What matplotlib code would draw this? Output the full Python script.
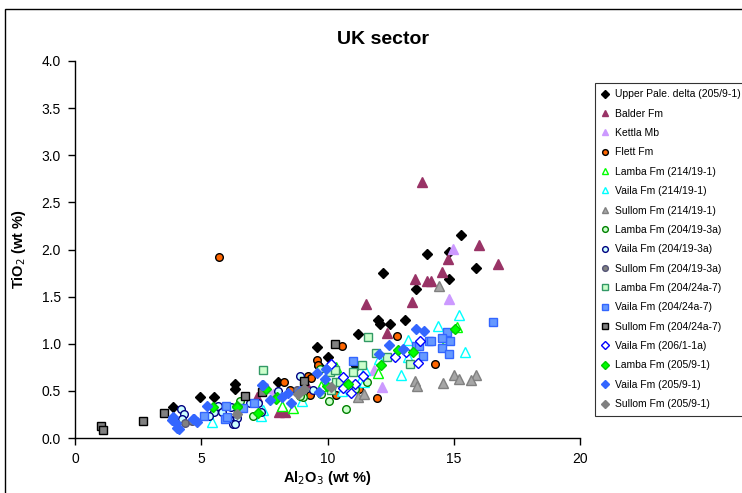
import matplotlib
matplotlib.use("Agg")
import matplotlib.pyplot as plt
from matplotlib.lines import Line2D
from matplotlib.patches import Rectangle

plt.rcParams['font.family'] = ['Liberation Sans', 'DejaVu Sans']

# Al2O3 (x) and TiO2 (y), wt %
upper_pale_x = [15.29, 13.95, 14.8, 15.88, 12.19, 14.8, 13.49, 11.99, 12.08, 12.48, 13.08, 11.21,
                11.12, 9.58, 10.03, 8.03, 6.32, 6.32, 3.87, 4.96, 5.5, 9.68]
upper_pale_y = [2.15, 1.95, 1.97, 1.80, 1.75, 1.69, 1.58, 1.25, 1.21, 1.21, 1.25, 1.10,
                0.76, 0.97, 0.86, 0.59, 0.57, 0.52, 0.33, 0.43, 0.43, 0.76]

balder_x = [13.74, 15.99, 16.75, 14.76, 14.55, 13.45, 13.95, 14.11, 11.54, 13.33, 12.36, 8.07, 8.33, 7.19, 9.11]
balder_y = [2.72, 2.05, 1.85, 1.90, 1.76, 1.69, 1.67, 1.67, 1.42, 1.44, 1.11, 0.28, 0.28, 0.44, 0.59]

kettla_x = [14.96, 14.8, 12.15, 11.85, 7.83, 7.59]
kettla_y = [2.01, 1.47, 0.54, 0.72, 0.47, 0.53]

flett_x = [5.70, 12.74, 14.26, 11.96, 10.57, 9.57, 9.64, 9.23, 9.36, 8.29, 8.51, 9.29, 10.34, 11.26]
flett_y = [1.92, 1.08, 0.78, 0.42, 0.98, 0.83, 0.77, 0.66, 0.64, 0.59, 0.51, 0.46, 0.46, 0.52]

lamba_214_x = [15.14, 12.01, 14.72, 10.34, 8.19, 8.62, 10.28, 9.76]
lamba_214_y = [1.18, 0.69, 1.05, 0.75, 0.34, 0.32, 0.73, 0.55]

vaila_214_x = [15.21, 15.46, 14.36, 13.17, 13.17, 12.9, 12.05, 11.49, 11.29, 8.98, 11.46, 10.56, 7.43, 7.37, 5.43]
vaila_214_y = [1.31, 0.91, 1.19, 1.04, 0.86, 0.67, 0.84, 0.72, 0.60, 0.39, 0.59, 0.50, 0.30, 0.23, 0.17]

sullom_214_x = [15.01, 15.21, 15.87, 15.7, 14.59, 14.42, 13.47, 13.53, 11.22, 11.45]
sullom_214_y = [0.67, 0.63, 0.67, 0.62, 0.58, 1.61, 0.60, 0.55, 0.44, 0.47]

lamba_2041_x = [11.55, 10.73, 10.07, 9.74, 9.02, 11.1, 8.92, 6.53, 7.04, 9.70]
lamba_2041_y = [0.59, 0.31, 0.39, 0.47, 0.44, 0.52, 0.45, 0.39, 0.23, 0.73]

vaila_2041_x = [4.2, 4.3, 4.24, 5.52, 5.65, 5.81, 6.17, 6.30, 6.40, 5.32, 6.11, 6.24, 6.93, 7.26,
                7.35, 9.44, 8.91, 8.03, 6.44, 6.34]
vaila_2041_y = [0.31, 0.25, 0.20, 0.28, 0.34, 0.28, 0.33, 0.19, 0.21, 0.23, 0.20, 0.15, 0.37, 0.37,
                0.28, 0.51, 0.66, 0.50, 0.30, 0.15]

sullom_2041_x = [4.37, 4.62, 6.40, 8.81, 9.04]
sullom_2041_y = [0.16, 0.18, 0.25, 0.51, 0.52]

lamba_2042_x = [7.46, 11.59, 11.91, 12.34, 13.27, 11.35, 10.1, 10.34, 10.5, 10.14, 11.0, 10.3]
lamba_2042_y = [0.72, 1.07, 0.90, 0.86, 0.78, 0.77, 0.70, 0.59, 0.59, 0.51, 0.70, 0.72]

vaila_2042_x = [16.57, 14.75, 14.85, 14.55, 14.81, 14.52, 14.0, 14.1, 13.49, 13.62, 13.8, 11.0,
                5.98, 5.94, 5.11, 6.67, 6.0, 7.1]
vaila_2042_y = [1.23, 1.12, 1.03, 0.95, 0.89, 1.06, 1.03, 1.03, 0.98, 0.98, 0.87, 0.82,
                0.34, 0.20, 0.23, 0.32, 0.22, 0.37]

sullom_2042_x = [1.03, 1.12, 2.69, 3.52, 10.3, 9.08, 7.41, 6.75]
sullom_2042_y = [0.13, 0.08, 0.18, 0.26, 1.00, 0.61, 0.49, 0.45]

vaila_206_x = [13.66, 13.09, 12.69, 13.6, 11.39, 11.09, 10.14, 10.6, 10.6, 10.93]
vaila_206_y = [1.03, 0.91, 0.86, 0.80, 0.66, 0.57, 0.79, 0.65, 0.53, 0.48]

lamba_205_x = [15.05, 12.78, 13.4, 12.11, 10.8, 9.97, 7.56, 8.01, 7.96, 6.40, 5.45, 6.40, 7.23]
lamba_205_y = [1.16, 0.93, 0.91, 0.77, 0.57, 0.55, 0.52, 0.44, 0.41, 0.34, 0.33, 0.33, 0.26]

vaila_205_x = [13.49, 13.82, 12.45, 12.03, 13.0, 9.93, 9.9, 9.6, 8.91, 8.42, 7.46, 7.72, 8.19, 8.54,
               9.68, 5.24, 3.87, 4.0, 4.13, 4.72, 4.84, 3.83, 4.03, 4.69, 7.42]
vaila_205_y = [1.16, 1.13, 0.99, 0.89, 0.94, 0.73, 0.63, 0.69, 0.50, 0.48, 0.56, 0.40, 0.43, 0.37,
               0.49, 0.34, 0.22, 0.16, 0.10, 0.20, 0.17, 0.19, 0.11, 0.20, 0.56]

sullom_205_x = [9.07, 8.84, 10.14, 6.42]
sullom_205_y = [0.52, 0.47, 0.54, 0.25]

series = [
    ("Upper Pale. delta (205/9-1)", upper_pale_x, upper_pale_y, "D", "black", "black", 5.2),
    ("Balder Fm", balder_x, balder_y, "^", "#993366", "#993366", 6.5),
    ("Kettla Mb", kettla_x, kettla_y, "^", "#cc99ff", "#cc99ff", 6.5),
    ("Flett Fm", flett_x, flett_y, "o", "#ff6600", "black", 5.5),
    ("Lamba Fm (214/19-1)", lamba_214_x, lamba_214_y, "^", "white", "#00ff00", 6.5),
    ("Vaila Fm (214/19-1)", vaila_214_x, vaila_214_y, "^", "white", "#00ffff", 6.5),
    ("Sullom Fm (214/19-1)", sullom_214_x, sullom_214_y, "^", "#a6a6a6", "#808080", 6.5),
    ("Lamba Fm (204/19-3a)", lamba_2041_x, lamba_2041_y, "o", "#ccffcc", "#008000", 5.5),
    ("Vaila Fm (204/19-3a)", vaila_2041_x, vaila_2041_y, "o", "#ccffff", "#000080", 5.5),
    ("Sullom Fm (204/19-3a)", sullom_2041_x, sullom_2041_y, "o", "#808080", "#555577", 5.5),
    ("Lamba Fm (204/24a-7)", lamba_2042_x, lamba_2042_y, "s", "#ccffcc", "#339966", 5.8),
    ("Vaila Fm (204/24a-7)", vaila_2042_x, vaila_2042_y, "s", "#6699ff", "#3366ff", 5.8),
    ("Sullom Fm (204/24a-7)", sullom_2042_x, sullom_2042_y, "s", "#808080", "black", 5.8),
    ("Vaila Fm (206/1-1a)", vaila_206_x, vaila_206_y, "D", "white", "#0000ff", 5.2),
    ("Lamba Fm (205/9-1)", lamba_205_x, lamba_205_y, "D", "#00ff00", "#00cc00", 5.2),
    ("Vaila Fm (205/9-1)", vaila_205_x, vaila_205_y, "D", "#3366ff", "#3366ff", 5.2),
    ("Sullom Fm (205/9-1)", sullom_205_x, sullom_205_y, "D", "#808080", "#808080", 5.2),
]

fig = plt.figure(figsize=(7.42, 4.93), dpi=100)
W, H = 742, 493

# chart frame
fig.patches.append(Rectangle((5 / W, -0.1), 1.2, 1 - 9 / H + 0.1, transform=fig.transFigure,
                             fill=False, edgecolor="black", linewidth=1.0))

ax = fig.add_axes([75 / W, 1 - 438 / H, (580 - 75) / W, (438 - 61) / H])

handles = []
for label, xs, ys, mk, fc, ec, ms in series:
    ax.plot(xs, ys, linestyle="none", marker=mk, markersize=ms, markerfacecolor=fc,
            markeredgecolor=ec, markeredgewidth=1.0, clip_on=False)
    handles.append(Line2D([], [], linestyle="none", marker=mk, markersize=ms * 0.75,
                          markerfacecolor=fc, markeredgecolor=ec, markeredgewidth=1.0, label=label))

ax.set_xlim(0, 20)
ax.set_ylim(0, 4.0)
ax.set_xticks([0, 5, 10, 15, 20])
ax.set_yticks([0.0, 0.5, 1.0, 1.5, 2.0, 2.5, 3.0, 3.5, 4.0])
ax.set_yticklabels([f"{v:.1f}" for v in ax.get_yticks()])
ax.spines["top"].set_visible(False)
ax.spines["right"].set_visible(False)
ax.spines["left"].set_linewidth(1.0)
ax.spines["bottom"].set_linewidth(1.0)
ax.tick_params(direction="out", length=5, width=1.0, labelsize=10, pad=5)

ax.set_xlabel("Al$_2$O$_3$ (wt %)", fontsize=10.5, fontweight="bold", labelpad=2)
ax.set_ylabel("TiO$_2$ (wt %)", fontsize=10.5, fontweight="bold", labelpad=10)

fig.text(383 / W, 1 - 40 / H, "UK sector", ha="center", va="center", fontsize=14, fontweight="bold")

leg = fig.legend(handles=handles, loc="upper left", bbox_to_anchor=(595 / W, 1 - 83 / H),
                 fontsize=7.5, frameon=True, fancybox=False, edgecolor="black",
                 labelspacing=0.9, handlelength=0.8, handletextpad=0.5, borderaxespad=0,
                 borderpad=0.6)
leg.get_frame().set_linewidth(0.8)

fig.savefig("out.png", dpi=100)
